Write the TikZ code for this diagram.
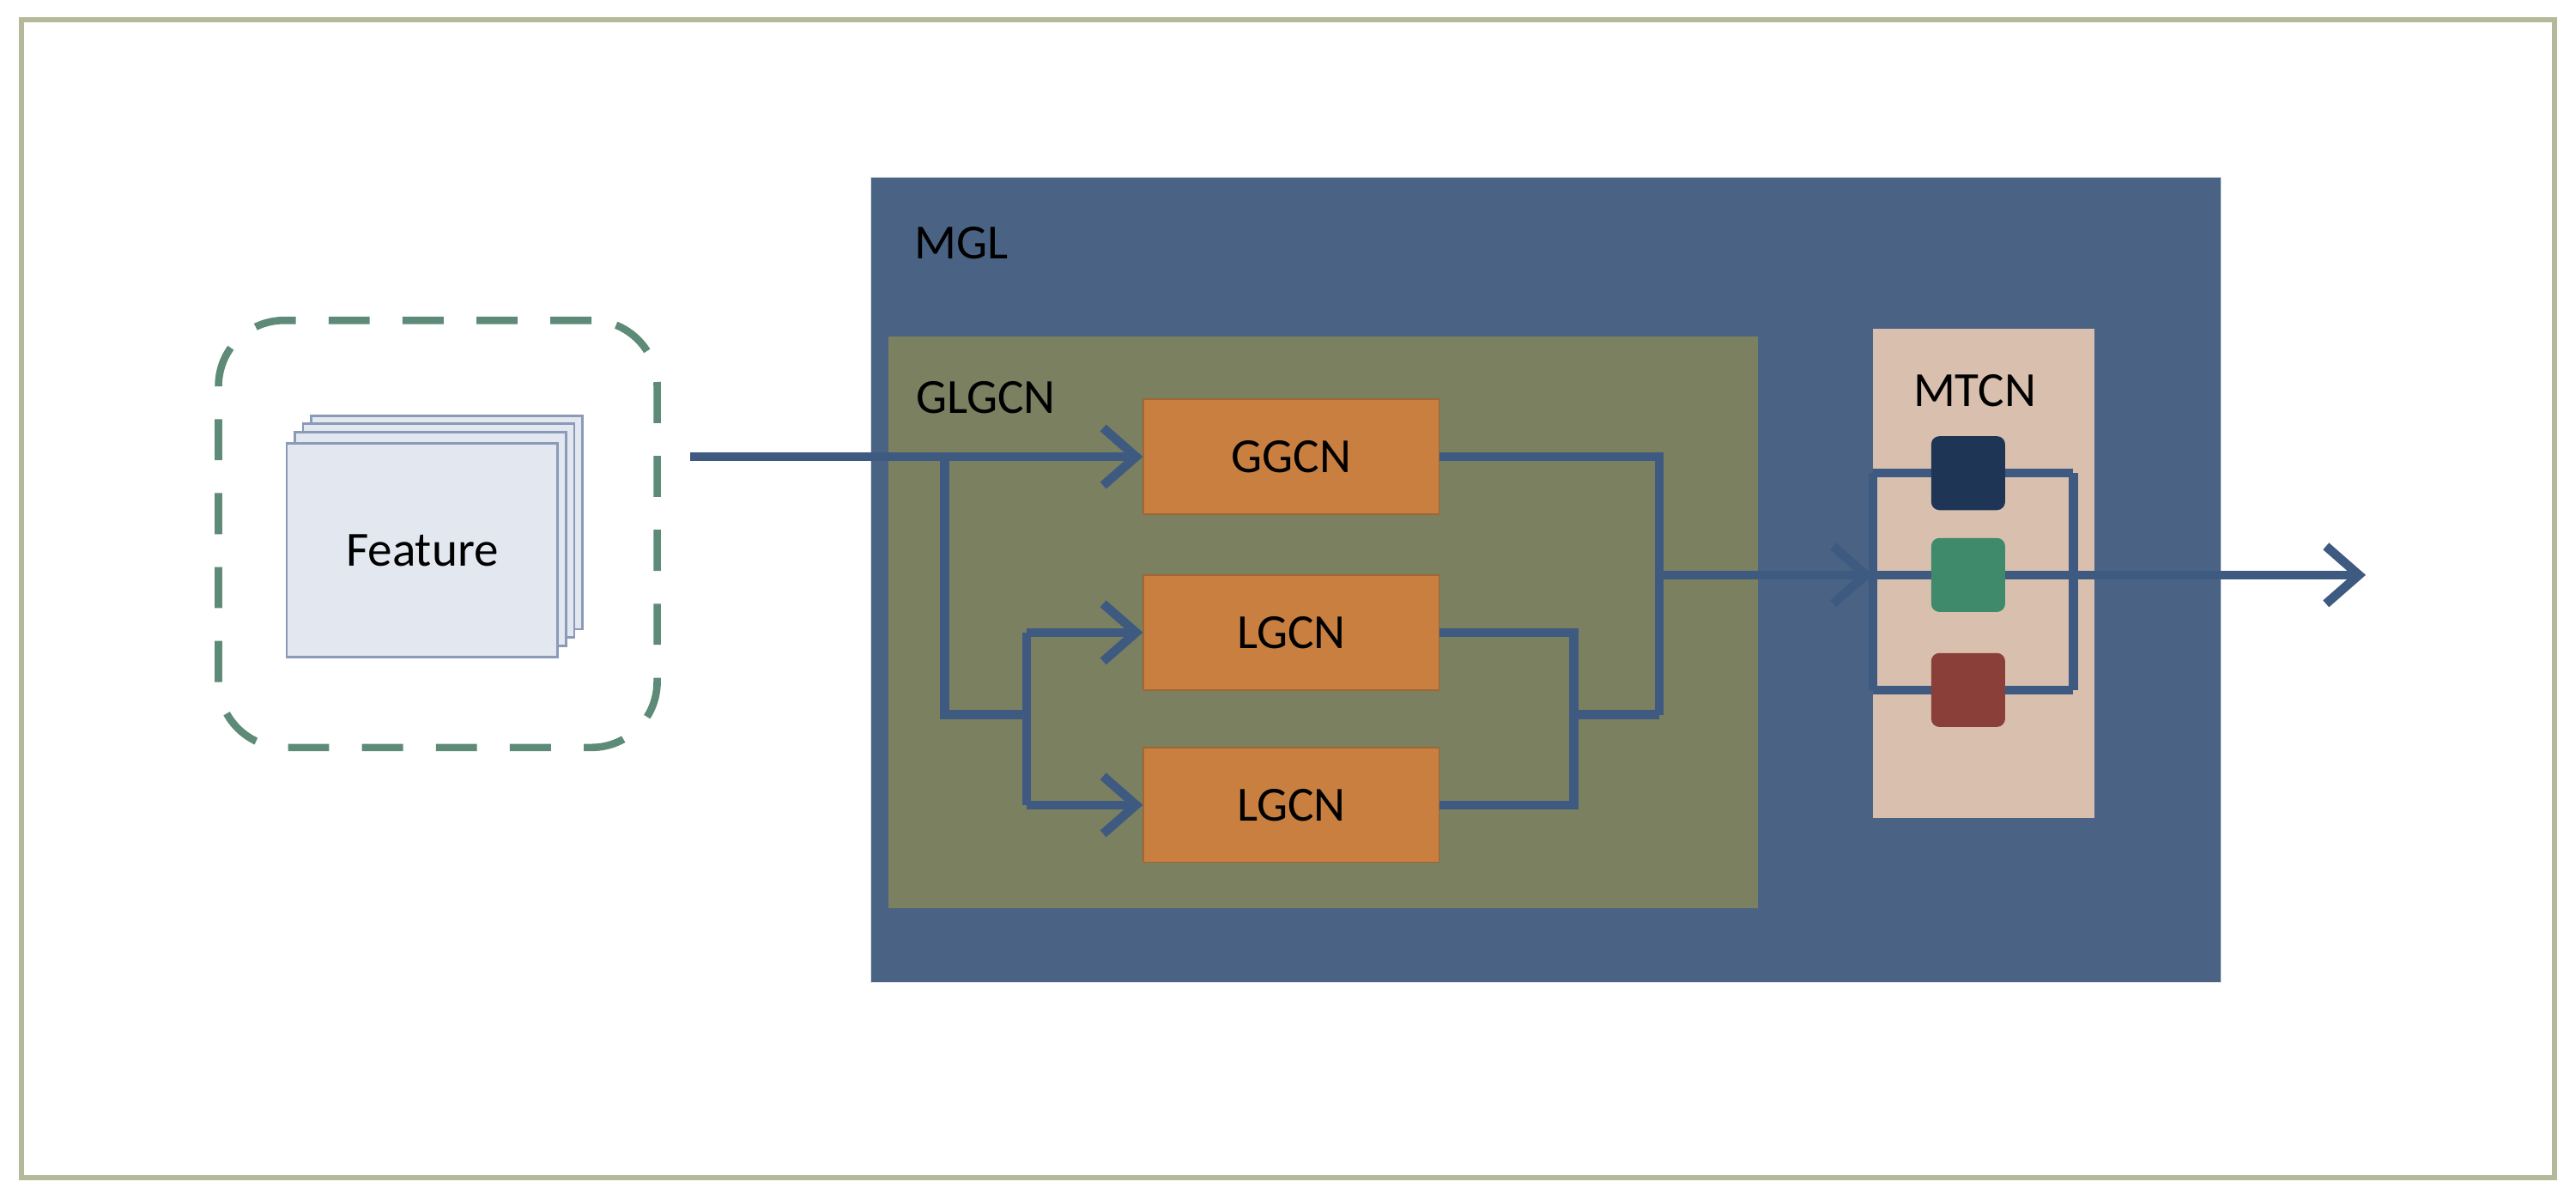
\documentclass[tikz,border=0pt]{standalone}
\usepackage{fontspec}
\setmainfont{Carlito}
\usetikzlibrary{positioning,arrows.meta,fit,calc}
\definecolor{framec}{HTML}{B5B99A}
\definecolor{dashc}{HTML}{5E8A78}
\definecolor{mglc}{HTML}{4A6283}
\definecolor{glc}{HTML}{7A8060}
\definecolor{gcnc}{HTML}{C87F40}
\definecolor{mtcnc}{HTML}{D8BFAE}
\definecolor{linec}{HTML}{3E5A80}
\definecolor{featc}{HTML}{E2E7F0}
\definecolor{featb}{HTML}{8A9AB8}
\definecolor{sqa}{HTML}{1E3556}
\definecolor{sqb}{HTML}{3E8A6A}
\definecolor{sqc}{HTML}{8A4038}
\tikzset{
  txt/.style={font=\fontsize{17}{20}\selectfont},
  gcn/.style={fill=gcnc, draw=gcnc!80!black, minimum width=36mm, minimum height=14mm, txt},
  sq/.style={rounded corners=1mm, minimum size=9mm, draw=none},
  feat/.style={fill=featc, draw=featb, thick, minimum width=33mm, minimum height=26mm},
  conn/.style={draw=linec, line width=1.1mm},
  arr/.style={conn, -{Straight Barb[length=4mm,width=7mm,line width=1.1mm]}}
}
\begin{document}
\begin{tikzpicture}[x=0.2mm, y=-0.2mm]
\useasboundingbox (0,0) rectangle (1568,730);
\draw[framec, line width=0.6mm] (13,12) rectangle (1555,717);

% feature block
\node (feat_box) at (266.5,325) [draw=dashc, line width=0.9mm, dash pattern=on 5mm off 4mm, rounded corners=8mm, minimum width=53.4mm, minimum height=52mm] {};
\node (feat3) at (272,318) [feat] {};
\node (feat2) at (267,323) [feat] {};
\node (feat1) at (262,328) [feat] {};
\node (feat0) at (257,335) [feat, txt] {Feature};

% MGL
\node (mgl) at (941,353) [fill=mglc, draw=white!80!mglc, minimum width=164.4mm, minimum height=98mm] {};
\node (mgl_lbl) at (585,148) [txt] {MGL};
\node (glgcn) at (805.5,379) [fill=glc, minimum width=105.8mm, minimum height=69.6mm] {};
\node (glgcn_lbl) at (600,242) [txt] {GLGCN};
\node (ggcn) at (786,278) [gcn] {GGCN};
\node (lgcn1) at (786,385) [gcn] {LGCN};
\node (lgcn2) at (786,490) [gcn] {LGCN};

% MTCN
\node (mtcn) at (1207.5,349) [fill=mtcnc, minimum width=27mm, minimum height=59.6mm] {};
\node (mtcn_lbl) at (1202,238) [txt] {MTCN};
\coordinate (m_l1) at (1140,288);
\coordinate (m_l3) at (1140,420);
\coordinate (m_r1) at (1262,288);
\coordinate (m_r3) at (1262,420);
\coordinate (m_in) at (1140,350);
\coordinate (m_out) at (1262,350);
\coordinate (out_end) at (1440,350);
\draw[conn] (m_l1) -- (m_r1) (m_l3) -- (m_r3) (m_l1) -- (m_l3) (m_r1) -- (m_r3) (m_in) -- (m_out);
\node (sq_a) at (1198,288) [sq, fill=sqa] {};
\node (sq_b) at (1198,350) [sq, fill=sqb] {};
\node (sq_c) at (1198,420) [sq, fill=sqc] {};
\draw[arr] (m_out) -- (out_end);

% connectors
\coordinate (in_start) at (420,278);
\coordinate (split) at (575,278);
\coordinate (split_d) at (575,435);
\coordinate (lsplit) at (625,435);
\coordinate (lsplit_t) at (625,385);
\coordinate (lsplit_b) at (625,490);
\coordinate (g_out) at (1010,278);
\coordinate (l_j1) at (958,385);
\coordinate (l_j2) at (958,490);
\coordinate (l_j) at (958,435);
\coordinate (g_j) at (1010,435);
\coordinate (mid) at (1010,350);
\draw[arr] (in_start) -- (ggcn.west);
\draw[conn] (split) -- (split_d) -- (lsplit);
\draw[conn] (lsplit_t) -- (lsplit_b);
\draw[arr] (lsplit_t) -- (lgcn1.west);
\draw[arr] (lsplit_b) -- (lgcn2.west);
\draw[conn] (ggcn.east) -- (g_out) -- (g_j);
\draw[conn] (lgcn1.east) -- (l_j1) -- (l_j2) -- (lgcn2.east);
\draw[conn] (l_j) -- (g_j);
\draw[arr] (mid) -- (m_in);
\end{tikzpicture}
\end{document}
